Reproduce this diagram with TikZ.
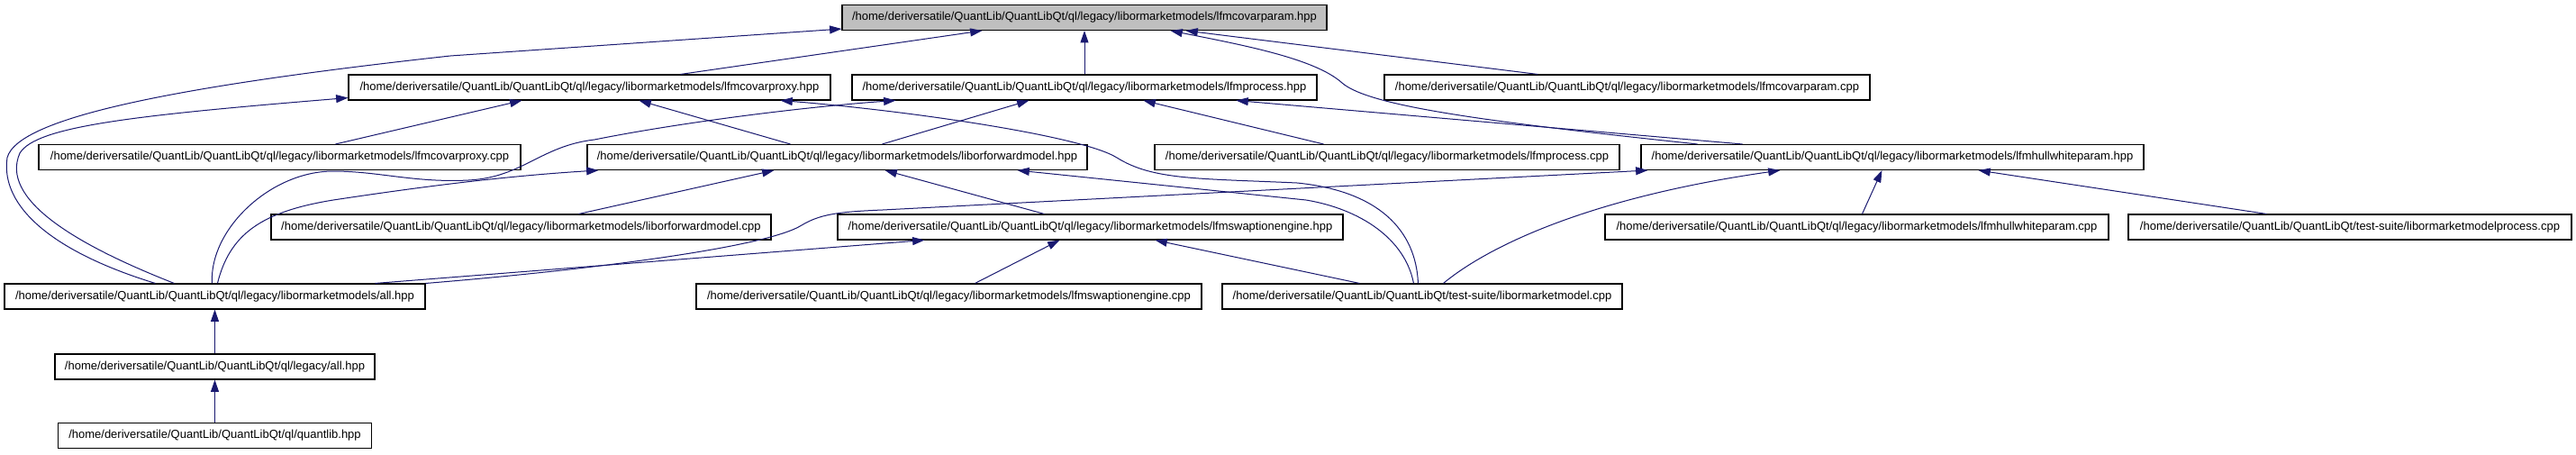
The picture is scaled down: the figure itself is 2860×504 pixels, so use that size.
\documentclass[tikz,border=0pt]{standalone}
\usepackage{fontspec}
\setmainfont{Liberation Sans}
\usetikzlibrary{arrows.meta,calc}
\definecolor{edgeblue}{HTML}{191970}
\begin{document}
\begin{tikzpicture}[x=0.75pt,y=-0.75pt,
  file/.style={draw=black, line width=0.8pt, fill=white, minimum height=21pt,
    inner xsep=0pt, inner ysep=0pt, font=\fontsize{9.75}{11}\selectfont, anchor=center},
  cur/.style={file, fill=gray!50},
  w/.style={minimum width=#1*0.75pt},
  edge/.style={draw=edgeblue, line width=0.75pt, -{Triangle[length=10pt,width=6.7pt]}}]
\useasboundingbox[fill=white] (0,0) rectangle (2860,504);

\node[cur,w=538]  (A) at (1204,19.5) {/home/deriversatile/QuantLib/QuantLibQt/ql/legacy/libormarketmodels/lfmcovarparam.hpp};
\node[file,w=535] (B) at (654.5,97) {/home/deriversatile/QuantLib/QuantLibQt/ql/legacy/libormarketmodels/lfmcovarproxy.hpp};
\node[file,w=516] (C) at (1204,97) {/home/deriversatile/QuantLib/QuantLibQt/ql/legacy/libormarketmodels/lfmprocess.hpp};
\node[file,w=539] (D) at (1806.5,97) {/home/deriversatile/QuantLib/QuantLibQt/ql/legacy/libormarketmodels/lfmcovarparam.cpp};
\node[file,w=535] (E) at (310.5,174.5) {/home/deriversatile/QuantLib/QuantLibQt/ql/legacy/libormarketmodels/lfmcovarproxy.cpp};
\node[file,w=555] (F) at (929.5,174.5) {/home/deriversatile/QuantLib/QuantLibQt/ql/legacy/libormarketmodels/liborforwardmodel.hpp};
\node[file,w=516] (G) at (1540,174.5) {/home/deriversatile/QuantLib/QuantLibQt/ql/legacy/libormarketmodels/lfmprocess.cpp};
\node[file,w=558] (H) at (2101,174.5) {/home/deriversatile/QuantLib/QuantLibQt/ql/legacy/libormarketmodels/lfmhullwhiteparam.hpp};
\node[file,w=555] (I) at (578.5,252) {/home/deriversatile/QuantLib/QuantLibQt/ql/legacy/libormarketmodels/liborforwardmodel.cpp};
\node[file,w=561] (J) at (1210.5,252) {/home/deriversatile/QuantLib/QuantLibQt/ql/legacy/libormarketmodels/lfmswaptionengine.hpp};
\node[file,w=559] (K) at (2061.5,252) {/home/deriversatile/QuantLib/QuantLibQt/ql/legacy/libormarketmodels/lfmhullwhiteparam.cpp};
\node[file,w=492] (L) at (2609,252) {/home/deriversatile/QuantLib/QuantLibQt/test-suite/libormarketmodelprocess.cpp};
\node[file,w=467] (M) at (238.5,329) {/home/deriversatile/QuantLib/QuantLibQt/ql/legacy/libormarketmodels/all.hpp};
\node[file,w=561] (N) at (1053.5,329) {/home/deriversatile/QuantLib/QuantLibQt/ql/legacy/libormarketmodels/lfmswaptionengine.cpp};
\node[file,w=444] (O) at (1579,329) {/home/deriversatile/QuantLib/QuantLibQt/test-suite/libormarketmodel.cpp};
\node[file,w=355] (P) at (238.5,407) {/home/deriversatile/QuantLib/QuantLibQt/ql/legacy/all.hpp};
\node[file,w=348] (Q) at (238.5,483.5) {/home/deriversatile/QuantLib/QuantLibQt/ql/quantlib.hpp};

% edges into A
\draw[edge] ($(B.north west)+(369,0)$) -- ($(A.south west)+(156,0)$);
\draw[edge] (C.north) -- (A.south);
\draw[edge] ($(D.north west)+(171,0)$) -- ($(A.south west)+(382,0)$);
\draw[edge] ($(H.north west)+(63,0)$) .. controls (1650,135) and (1520,118) .. (1490,92)
  .. controls (1460,65) and (1380,50) .. ($(A.south west)+(365,0)$);
\draw[edge] ($(M.north west)+(168,0)$) .. controls (60,280) and (0,230) .. (8,175)
  .. controls (20,130) and (200,95) .. (500,62) -- ($(A.south west)+(0,-2)$);
% edges into B
\draw[edge] ($(M.north west)+(189,0)$) .. controls (80,270) and (0,220) .. (22,170)
  .. controls (40,140) and (150,128) .. ($(B.south west)+(0,-3)$);
\draw[edge] ($(E.north west)+(330,0)$) -- ($(B.south west)+(193,0)$);
\draw[edge] ($(F.north west)+(226,0)$) -- ($(B.south west)+(323,0)$);
\draw[edge] ($(O.north west)+(218,0)$) .. controls (1572,255) and (1530,212) .. (1440,203)
  .. controls (1330,198) and (1280,200) .. (1240,175)
  .. controls (1200,150) and (1000,122) .. ($(B.south west)+(480,0)$);
% edges into C
\draw[edge] ($(M.north west)+(231,0)$) .. controls (232,255) and (300,190) .. (370,190)
  .. controls (420,190) and (460,203) .. (520,200)
  .. controls (580,197) and (600,162) .. (660,155)
  .. controls (760,135) and (900,118) .. ($(C.south west)+(49,0)$);
\draw[edge] ($(F.north west)+(328,0)$) -- ($(C.south west)+(197,0)$);
\draw[edge] ($(G.north west)+(188,0)$) -- ($(C.south west)+(324,0)$);
\draw[edge] ($(H.north west)+(113,0)$) -- ($(C.south west)+(427,0)$);
% edges into F
\draw[edge] ($(M.north west)+(237,0)$) .. controls (255,260) and (290,235) .. (370,222)
  .. controls (450,210) and (550,196) .. ($(F.south west)+(13,0)$);
\draw[edge] ($(I.north west)+(342,0)$) -- ($(F.south west)+(208,0)$);
\draw[edge] ($(J.north west)+(230,0)$) -- ($(F.south west)+(331,0)$);
\draw[edge] ($(O.north west)+(213,0)$) .. controls (1560,265) and (1510,232) .. (1450,222)
  -- ($(F.south west)+(478,0)$);
% edges into J
\draw[edge] ($(M.north west)+(412,0)$) -- ($(J.south west)+(97,0)$);
\draw[edge] ($(N.north west)+(310,0)$) -- ($(J.south west)+(247,0)$);
\draw[edge] ($(O.north west)+(153,0)$) -- ($(J.south west)+(353,0)$);
% edges into H
\draw[edge] (M.north east) .. controls (650,300) and (850,275) .. (890,250)
  .. controls (910,238) and (930,235) .. (980,233) -- ($(H.south west)+(8,0)$);
\draw[edge] ($(O.north west)+(246,0)$) .. controls (1650,275) and (1760,220) .. ($(H.south west)+(155,0)$);
\draw[edge] ($(K.north west)+(286,0)$) -- ($(H.south west)+(268,0)$);
\draw[edge] ($(L.north west)+(154,0)$) -- ($(H.south west)+(375,0)$);
% lower chain
\draw[edge] (P.north) -- (M.south);
\draw[edge] (Q.north) -- (P.south);
\end{tikzpicture}
\end{document}
